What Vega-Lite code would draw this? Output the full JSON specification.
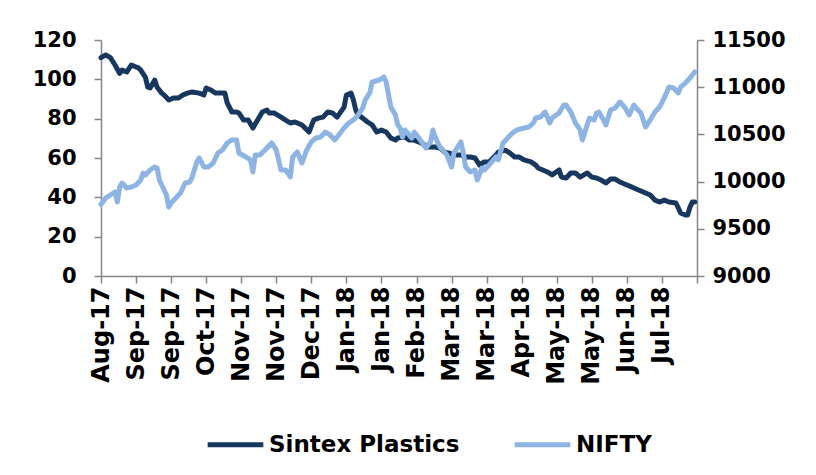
{
  "$schema": "https://vega.github.io/schema/vega-lite/v6.json",
  "width": 596,
  "height": 236,
  "autosize": {"type": "none"},
  "padding": {"left": 101, "top": 40, "right": 119, "bottom": 199},
  "background": "white",
  "config": {
    "view": {"stroke": null},
    "font": "DejaVu Sans",
    "axis": {
      "grid": false,
      "domainColor": "#868686",
      "domainWidth": 1.5,
      "tickColor": "#868686",
      "tickWidth": 1.5,
      "tickSize": 7,
      "labelColor": "#000000",
      "labelFont": "DejaVu Sans",
      "labelFontWeight": "bold",
      "labelFontSize": 21,
      "title": null
    },
    "legend": {
      "labelFont": "DejaVu Sans",
      "labelFontWeight": "bold",
      "labelFontSize": 23,
      "labelColor": "#000000",
      "labelLimit": 0
    }
  },
  "datasets": {
    "sintex": [
      {"day":0,"value":111},{"day":2,"value":112.4},{"day":4,"value":111},{"day":6,"value":107.3},{"day":8,"value":103},{"day":9,"value":104.7},{"day":11,"value":103.7},{"day":13,"value":107.3},{"day":15,"value":106.3},{"day":16,"value":105.8},{"day":17,"value":104.7},{"day":19,"value":101},{"day":20,"value":96},{"day":21,"value":95.6},{"day":23,"value":99.6},{"day":24,"value":96},{"day":26,"value":93},{"day":27,"value":92},{"day":29,"value":89.5},{"day":31,"value":90.5},{"day":33,"value":90.5},{"day":35,"value":92},{"day":37,"value":93},{"day":39,"value":93.6},{"day":42,"value":93},{"day":44,"value":92},{"day":45,"value":95.6},{"day":47,"value":94.6},{"day":49,"value":93},{"day":53,"value":93},{"day":54,"value":88},{"day":56,"value":83.4},{"day":58,"value":83.4},{"day":59,"value":82.9},{"day":61,"value":79.3},{"day":63,"value":79.3},{"day":65,"value":75.2},{"day":67,"value":79.3},{"day":69,"value":83.4},{"day":71,"value":84.4},{"day":72,"value":82.9},{"day":74,"value":82.9},{"day":77,"value":80.8},{"day":79,"value":79.3},{"day":81,"value":77.8},{"day":83,"value":78.3},{"day":84,"value":77.8},{"day":86,"value":76.8},{"day":89,"value":73.2},{"day":91,"value":79.3},{"day":93,"value":80.3},{"day":95,"value":80.8},{"day":97,"value":83.4},{"day":99,"value":82.9},{"day":101,"value":80.8},{"day":104,"value":85.9},{"day":105,"value":92},{"day":107,"value":93},{"day":108,"value":89.5},{"day":109,"value":84.4},{"day":110,"value":81.9},{"day":112,"value":80.3},{"day":114,"value":78.3},{"day":116,"value":76.8},{"day":118,"value":73.2},{"day":120,"value":74.2},{"day":122,"value":73.2},{"day":124,"value":70.2},{"day":126,"value":69.1},{"day":127,"value":70.2},{"day":130,"value":70.7},{"day":132,"value":69.1},{"day":134,"value":69.1},{"day":137,"value":67.6},{"day":140,"value":65.6},{"day":143,"value":65.6},{"day":145,"value":65.1},{"day":147,"value":63},{"day":149,"value":62.5},{"day":151,"value":61.5},{"day":154,"value":61.5},{"day":156,"value":60.5},{"day":158,"value":60.5},{"day":160,"value":60},{"day":162,"value":56.4},{"day":164,"value":58},{"day":166,"value":58},{"day":169,"value":61.5},{"day":170,"value":63},{"day":173,"value":64},{"day":175,"value":62.5},{"day":177,"value":60.5},{"day":179,"value":60.5},{"day":181,"value":59},{"day":184,"value":58},{"day":186,"value":56.4},{"day":187,"value":54.9},{"day":189,"value":53.9},{"day":191,"value":52.9},{"day":193,"value":51.4},{"day":196,"value":53.9},{"day":197,"value":50.3},{"day":199,"value":49.8},{"day":201,"value":52.4},{"day":203,"value":52.4},{"day":205,"value":50.3},{"day":208,"value":52.4},{"day":210,"value":50.3},{"day":212,"value":49.8},{"day":214,"value":48.8},{"day":216,"value":47.3},{"day":218,"value":49.3},{"day":220,"value":49.3},{"day":222,"value":47.8},{"day":225,"value":46.3},{"day":227,"value":45.3},{"day":230,"value":43.7},{"day":233,"value":42.2},{"day":235,"value":41.2},{"day":237,"value":38.6},{"day":239,"value":37.6},{"day":241,"value":38.6},{"day":243,"value":37.6},{"day":246,"value":37.1},{"day":247,"value":34.6},{"day":248,"value":32},{"day":250,"value":31},{"day":251,"value":31},{"day":252,"value":35.1},{"day":253,"value":37.6},{"day":254,"value":37.6}
    ],
    "nifty": [
      {"day":0,"value":9760},{"day":2,"value":9826},{"day":4,"value":9858},{"day":6,"value":9890},{"day":7,"value":9784},{"day":8,"value":9943},{"day":9,"value":9985},{"day":11,"value":9932},{"day":13,"value":9943},{"day":15,"value":9964},{"day":17,"value":10017},{"day":18,"value":10091},{"day":19,"value":10070},{"day":21,"value":10123},{"day":23,"value":10155},{"day":24,"value":10144},{"day":25,"value":10017},{"day":27,"value":9911},{"day":28,"value":9858},{"day":29,"value":9731},{"day":30,"value":9773},{"day":32,"value":9826},{"day":34,"value":9879},{"day":36,"value":9985},{"day":38,"value":9996},{"day":39,"value":10049},{"day":41,"value":10208},{"day":42,"value":10250},{"day":44,"value":10155},{"day":46,"value":10155},{"day":48,"value":10197},{"day":50,"value":10303},{"day":52,"value":10335},{"day":54,"value":10409},{"day":56,"value":10441},{"day":58,"value":10441},{"day":59,"value":10303},{"day":62,"value":10261},{"day":64,"value":10229},{"day":65,"value":10102},{"day":66,"value":10282},{"day":68,"value":10282},{"day":71,"value":10356},{"day":73,"value":10409},{"day":75,"value":10335},{"day":77,"value":10123},{"day":79,"value":10123},{"day":81,"value":10049},{"day":82,"value":10261},{"day":84,"value":10314},{"day":86,"value":10197},{"day":88,"value":10335},{"day":90,"value":10420},{"day":92,"value":10462},{"day":94,"value":10472},{"day":96,"value":10525},{"day":98,"value":10494},{"day":100,"value":10441},{"day":101,"value":10472},{"day":104,"value":10568},{"day":106,"value":10621},{"day":108,"value":10653},{"day":110,"value":10706},{"day":112,"value":10780},{"day":113,"value":10864},{"day":115,"value":10939},{"day":116,"value":11055},{"day":119,"value":11076},{"day":121,"value":11108},{"day":122,"value":11055},{"day":124,"value":10790},{"day":126,"value":10706},{"day":127,"value":10600},{"day":128,"value":10568},{"day":129,"value":10472},{"day":130,"value":10547},{"day":133,"value":10462},{"day":134,"value":10525},{"day":136,"value":10462},{"day":139,"value":10356},{"day":141,"value":10420},{"day":142,"value":10547},{"day":143,"value":10472},{"day":145,"value":10367},{"day":148,"value":10282},{"day":150,"value":10155},{"day":151,"value":10303},{"day":154,"value":10420},{"day":155,"value":10303},{"day":156,"value":10155},{"day":158,"value":10102},{"day":160,"value":10123},{"day":161,"value":10017},{"day":163,"value":10144},{"day":164,"value":10123},{"day":166,"value":10176},{"day":169,"value":10261},{"day":170,"value":10230},{"day":172,"value":10409},{"day":174,"value":10462},{"day":176,"value":10515},{"day":178,"value":10547},{"day":181,"value":10568},{"day":183,"value":10578},{"day":185,"value":10621},{"day":186,"value":10674},{"day":188,"value":10684},{"day":190,"value":10737},{"day":192,"value":10621},{"day":193,"value":10674},{"day":196,"value":10727},{"day":198,"value":10811},{"day":199,"value":10811},{"day":201,"value":10737},{"day":203,"value":10621},{"day":205,"value":10547},{"day":206,"value":10441},{"day":208,"value":10600},{"day":209,"value":10674},{"day":211,"value":10653},{"day":212,"value":10727},{"day":213,"value":10737},{"day":215,"value":10653},{"day":216,"value":10600},{"day":218,"value":10759},{"day":220,"value":10780},{"day":222,"value":10843},{"day":224,"value":10790},{"day":226,"value":10706},{"day":228,"value":10811},{"day":229,"value":10780},{"day":231,"value":10727},{"day":233,"value":10578},{"day":235,"value":10653},{"day":237,"value":10737},{"day":239,"value":10790},{"day":241,"value":10886},{"day":243,"value":11002},{"day":245,"value":10992},{"day":247,"value":10939},{"day":248,"value":11002},{"day":250,"value":11044},{"day":252,"value":11097},{"day":254,"value":11161}
    ]
  },
  "encoding": {
    "x": {
      "field": "day",
      "type": "quantitative",
      "scale": {"domain": [0, 255], "nice": false, "zero": false},
      "axis": {
        "values": [0,15,30,45,60,75,90,105,120,135,150,165,180,195,210,225,240,255],
        "labelAngle": -90,
        "labelPadding": 3,
        "labelFontSize": 24,
        "labelExpr": "datum.value < 250 ? ['Aug-17','Sep-17','Sep-17','Oct-17','Nov-17','Nov-17','Dec-17','Jan-18','Jan-18','Feb-18','Mar-18','Mar-18','Apr-18','May-18','May-18','Jun-18','Jul-18'][round(datum.value / 15)] : ''",
        "labelOverlap": false,
        "labelBound": false,
        "labelFlush": false
      }
    }
  },
  "layer": [
    {
      "data": {"name": "sintex"},
      "mark": {"type": "line", "strokeWidth": 5, "strokeCap": "round", "strokeJoin": "round"},
      "encoding": {
        "y": {
          "field": "value",
          "type": "quantitative",
          "scale": {"domain": [0, 120], "nice": false},
          "axis": {"orient": "left", "values": [0,20,40,60,80,100,120], "labelPadding": 18}
        },
        "color": {
          "datum": "Sintex Plastics",
          "type": "nominal",
          "scale": {"domain": ["Sintex Plastics", "NIFTY"], "range": ["#17375E", "#8DB4E2"]},
          "legend": {
            "title": null,
            "orient": "none",
            "legendX": 104,
            "legendY": 374,
            "direction": "horizontal",
            "symbolType": "stroke",
            "symbolStrokeWidth": 5,
            "symbolSize": 3100,
            "labelOffset": 3,
            "columnPadding": 44
          }
        }
      }
    },
    {
      "data": {"name": "nifty"},
      "mark": {"type": "line", "strokeWidth": 5, "strokeCap": "round", "strokeJoin": "round"},
      "encoding": {
        "y": {
          "field": "value",
          "type": "quantitative",
          "scale": {"domain": [9000, 11500], "nice": false, "zero": false},
          "axis": {"orient": "right", "values": [9000,9500,10000,10500,11000,11500], "format": "d", "labelPadding": 8}
        },
        "color": {"datum": "NIFTY", "type": "nominal"}
      }
    }
  ],
  "resolve": {"scale": {"y": "independent"}}
}
